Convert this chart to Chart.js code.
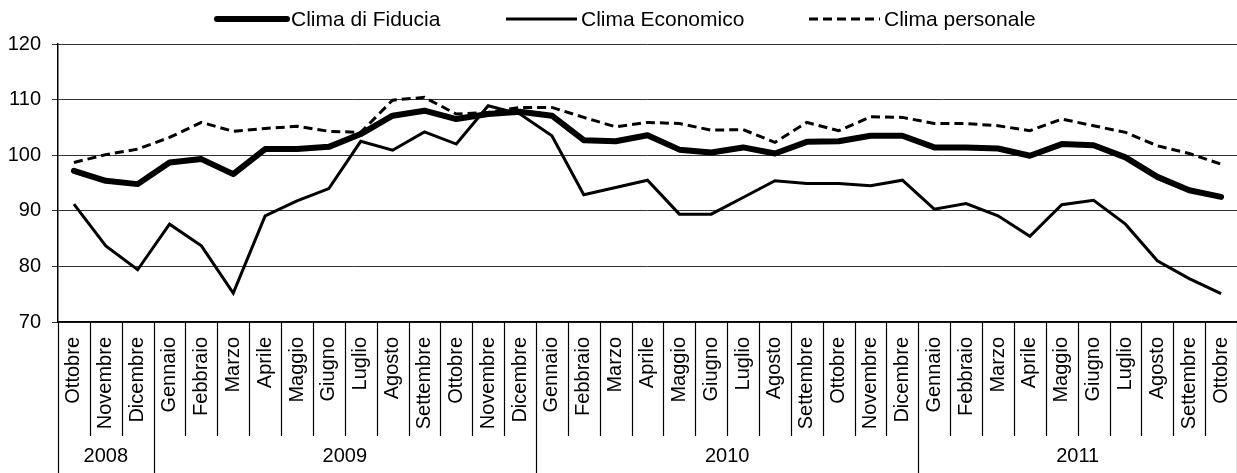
<!DOCTYPE html>
<html><head><meta charset="utf-8">
<script src="https://cdn.jsdelivr.net/npm/chart.js@4/dist/chart.umd.min.js"></script>
<style>html,body{margin:0;padding:0;background:#fff}#wrap{width:1237px;height:473px;position:relative}</style>
</head><body><div id="wrap"><canvas id="c"></canvas></div>
<script>
const months = ['Ottobre','Novembre','Dicembre',
  'Gennaio','Febbraio','Marzo','Aprile','Maggio','Giugno','Luglio','Agosto','Settembre','Ottobre','Novembre','Dicembre',
  'Gennaio','Febbraio','Marzo','Aprile','Maggio','Giugno','Luglio','Agosto','Settembre','Ottobre','Novembre','Dicembre',
  'Gennaio','Febbraio','Marzo','Aprile','Maggio','Giugno','Luglio','Agosto','Settembre','Ottobre'];
const fiducia = [97.2,95.4,94.8, 98.7,99.3,96.6,101.1,101.1,101.5,103.8,107.1,108.0,106.5,107.4,107.8,
  107.1,102.7,102.5,103.6,101.0,100.5,101.4,100.3,102.4,102.5,103.5,103.5,
  101.4,101.4,101.2,99.9,102.0,101.8,99.6,96.1,93.7,92.5];
const economico = [91.2,83.7,79.4, 87.6,83.7,75.2,89.1,91.8,94.0,102.5,100.9,104.2,102.0,108.9,107.4,
  103.5,92.9,94.2,95.5,89.4,89.4,92.4,95.4,94.9,94.9,94.5,95.5,
  90.3,91.3,89.1,85.4,91.1,91.9,87.6,81.0,77.8,75.1];
const personale = [98.7,100.1,101.1, 103.2,105.9,104.3,104.8,105.2,104.3,104.1,109.9,110.4,107.4,107.7,108.6,
  108.6,106.8,105.1,105.9,105.7,104.5,104.6,102.3,105.9,104.4,106.9,106.8,
  105.7,105.7,105.3,104.4,106.5,105.3,104.1,101.7,100.3,98.4];
const years = ['2008','2009','2010','2011'];
const yearSpans = [3,12,12,10];
const seriesNames = ['Clima di Fiducia','Clima Economico','Clima personale'];
const yMin = 70, yMax = 120, yStep = 10;

const FONT = '"Liberation Sans", Arial, Helvetica, sans-serif';

const decor = {
  id: 'decor',
  afterDraw(chart) {
    const ctx = chart.ctx, xs = chart.scales.x, a = chart.chartArea;
    const n = months.length;
    const half = (xs.getPixelForValue(1) - xs.getPixelForValue(0)) / 2;
    const bounds = [0]; let acc = 0;
    yearSpans.forEach(s => { acc += s; bounds.push(acc); });
    ctx.save();
    ctx.strokeStyle = '#000';
    ctx.lineWidth = 1.2;
    for (let i = 0; i <= n; i++) {
      const px = Math.round(xs.getPixelForValue(i) - half) + 0.5;
      const isYear = bounds.includes(i);
      ctx.beginPath();
      ctx.moveTo(px, a.bottom);
      ctx.lineTo(px, isYear ? chart.height : 436);
      ctx.stroke();
    }
    // year labels
    ctx.fillStyle = '#000';
    ctx.font = '20px ' + FONT;
    ctx.textAlign = 'center';
    ctx.textBaseline = 'middle';
    years.forEach((y, k) => {
      const i0 = bounds[k], i1 = bounds[k + 1] - 1;
      const cx = (xs.getPixelForValue(i0) + xs.getPixelForValue(i1)) / 2;
      ctx.fillText(y, cx, 456);
    });
    // legend
    const ly = 19;
    const items = [
      {x0: 217, x1: 287, w: 6, dash: [], cap: 'round'},
      {x0: 506, x1: 577, w: 3, dash: [], cap: 'butt'},
      {x0: 809, x1: 880, w: 3, dash: [9, 5], cap: 'butt'}
    ];
    ctx.textAlign = 'left';
    ctx.font = '21px ' + FONT;
    items.forEach((it, k) => {
      ctx.beginPath();
      ctx.setLineDash(it.dash);
      ctx.lineCap = it.cap;
      ctx.lineWidth = it.w;
      ctx.moveTo(it.x0, ly); ctx.lineTo(it.x1, ly);
      ctx.stroke();
      ctx.setLineDash([]);
      ctx.fillText(seriesNames[k], it.x1 + 4, ly + 1);
    });
    ctx.restore();
  }
};

new Chart(document.getElementById('c'), {
  type: 'line',
  data: {
    labels: months,
    datasets: [
      {label: seriesNames[0], data: fiducia, borderColor: '#000', borderWidth: 6, pointRadius: 0, tension: 0, fill: false, borderJoinStyle: 'round', borderCapStyle: 'round'},
      {label: seriesNames[1], data: economico, borderColor: '#000', borderWidth: 3, pointRadius: 0, tension: 0, fill: false},
      {label: seriesNames[2], data: personale, borderColor: '#000', borderWidth: 3, borderDash: [9, 5], pointRadius: 0, tension: 0, fill: false}
    ]
  },
  options: {
    responsive: true, maintainAspectRatio: false, animation: false,
    layout: {padding: {top: 44, left: 0, right: 0, bottom: 0}},
    plugins: {legend: {display: false}, tooltip: {enabled: false}},
    scales: {
      x: {
        type: 'category', offset: true,
        grid: {display: false, drawTicks: false},
        border: {display: true, color: '#000', width: 1.5},
        ticks: {autoSkip: false, minRotation: 90, maxRotation: 90, padding: 15, color: '#000', font: {family: FONT, size: 20}},
        afterFit(s) { s.height = 151; s.paddingLeft = 0; s.paddingRight = 0; }
      },
      y: {
        min: yMin, max: yMax,
        ticks: {stepSize: yStep, color: '#000', padding: 11, font: {family: FONT, size: 20}},
        grid: {color: '#333', lineWidth: 1, tickLength: 6},
        border: {color: '#000', width: 1.5},
        afterFit(s) { s.width = 58; }
      }
    }
  },
  plugins: [decor]
});
</script>
</body></html>
